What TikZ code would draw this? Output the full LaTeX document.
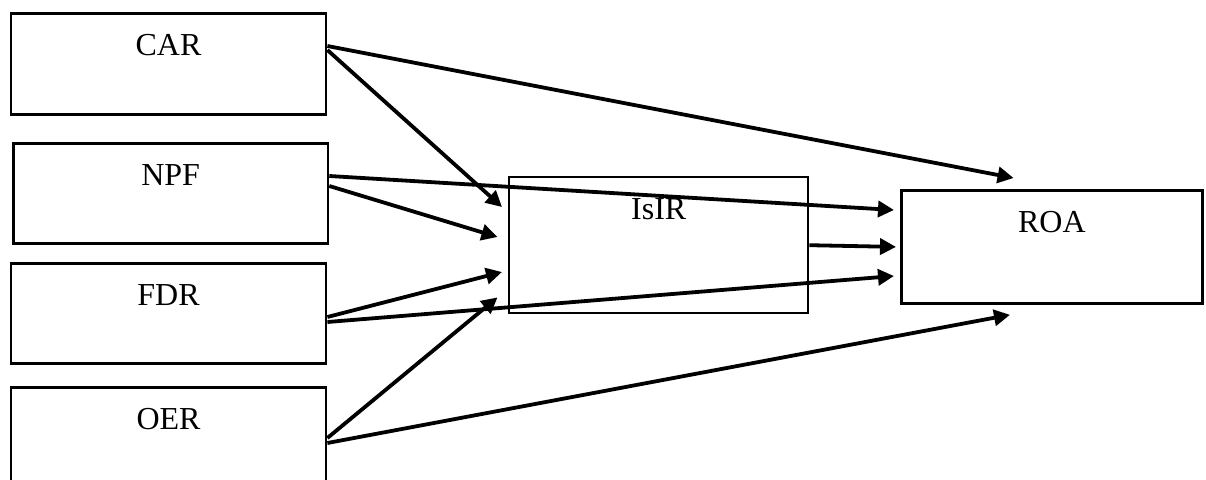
\documentclass[tikz,border=0pt]{standalone}
\usepackage{fontspec}
\setmainfont{Liberation Serif}
\usetikzlibrary{arrows.meta}

\tikzset{
  varbox/.style={draw, line width=2.8pt, anchor=north west, inner xsep=0pt, inner ysep=0pt,
    text height=42pt, font=\fontsize{32}{38}\selectfont},
  arr/.style={-{Triangle[length=16pt,width=16pt]}, line width=3.8pt}
}

\begin{document}
\begin{tikzpicture}[x=1pt,y=-1pt]
  \useasboundingbox (0,0) rectangle (1206,479);
  % Draw left boxes
  \node[varbox, minimum width=315pt, text depth=59pt] (car) at (9.6,12) {CAR};
  \node[varbox, minimum width=314.5pt, text depth=58pt] (npf) at (12,142) {NPF};
  \node[varbox, minimum width=315pt, text depth=58pt] (fdr) at (9.6,262) {FDR};
  \node[varbox, minimum width=315pt, text depth=60pt] (oer) at (9.6,386) {OER};
  % Draw middle and right box
  \node[varbox, line width=2.4pt, minimum width=299pt, text depth=94pt] (isir) at (508,176) {IsIR};
  \node[varbox, minimum width=301pt, text depth=71pt] (roa) at (900,189) {ROA};
  % Draw arrows
  \draw[arr] ([yshift=-34pt]car.north east) -- ([xshift=113.6pt,yshift=11pt]roa.north west);
  \draw[arr] ([yshift=-38pt]car.north east) -- ([xshift=-6pt,yshift=-31pt]isir.north west);
  \draw[arr] ([yshift=-34pt]npf.north east) -- ([xshift=-6pt,yshift=-21pt]roa.north west);
  \draw[arr] ([yshift=-44pt]npf.north east) -- ([xshift=-10.5pt,yshift=-61pt]isir.north west);
  \draw[arr] (isir.east) -- ([xshift=-4pt]roa.west);
  \draw[arr] ([yshift=-55pt]fdr.north east) -- ([xshift=-6pt,yshift=-96pt]isir.north west);
  \draw[arr] ([yshift=-60pt]fdr.north east) -- ([xshift=-6pt,yshift=-87pt]roa.north west);
  \draw[arr] ([yshift=-52pt]oer.north east) -- ([xshift=-10.5pt,yshift=17pt]isir.south west);
  \draw[arr] ([yshift=-57pt]oer.north east) -- ([xshift=110pt,yshift=-10pt]roa.south west);
\end{tikzpicture}
\end{document}
